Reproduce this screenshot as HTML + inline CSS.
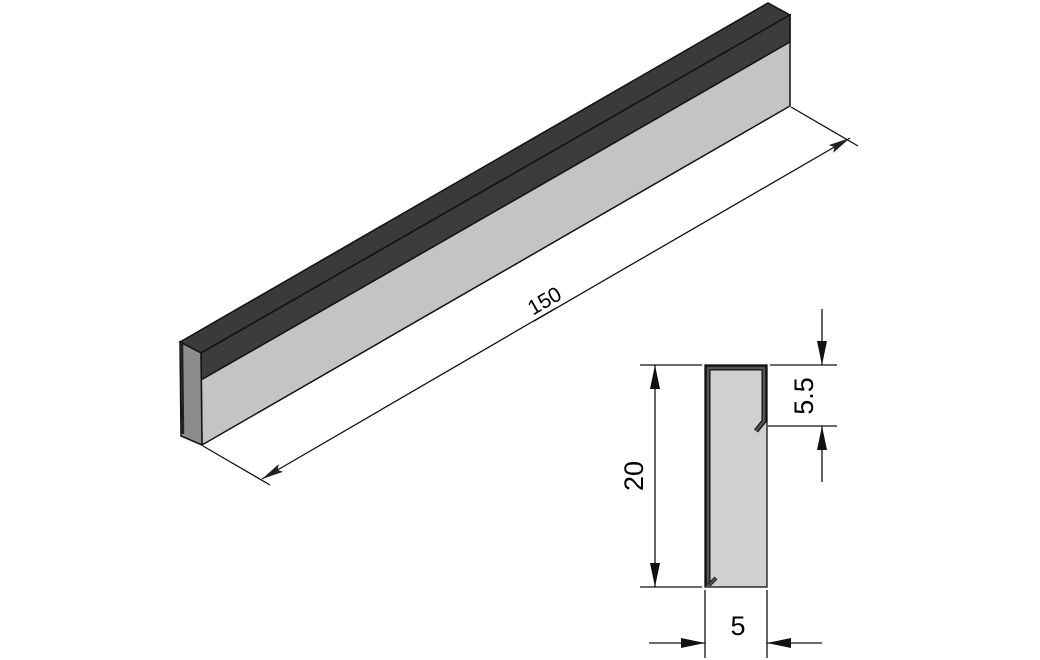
<!DOCTYPE html>
<html><head><style>body{margin:0;background:#fff}svg{display:block}</style></head><body>
<svg width="1040" height="660" viewBox="0 0 1040 660" xmlns="http://www.w3.org/2000/svg" font-family="Liberation Sans, sans-serif">
<defs>
<marker id="a" viewBox="0 0 24 10" refX="24" refY="5" markerWidth="24" markerHeight="10" markerUnits="userSpaceOnUse" orient="auto"><path d="M0,0 L24,5 L0,10 z" fill="#111"/></marker>
<marker id="b" viewBox="0 0 22 9" refX="22" refY="4.5" markerWidth="22" markerHeight="9" markerUnits="userSpaceOnUse" orient="auto"><path d="M0,0 L22,4.5 L0,9 L4,4.5 z" fill="#222"/></marker>
</defs>
<polygon points="180,342 768,3 790,15 201,353" fill="#3a3a3a" stroke="#111" stroke-width="1.5"/>
<polygon points="201,353 790,15 790,106 202,445" fill="#c4c4c4" stroke="#111" stroke-width="1.5"/>
<polygon points="201,353 790,15 790,42 201,380" fill="#3c3c3c" stroke="#111" stroke-width="1.5"/>
<polygon points="180,342 201,353 202,445 181,436" fill="#8c8c8c" stroke="#111" stroke-width="1.5"/>
<line x1="182" y1="344" x2="183" y2="434" stroke="#222" stroke-width="2.5"/>
<g stroke="#111" stroke-width="1.3" fill="none">
<line x1="203" y1="446" x2="270" y2="485"/>
<line x1="791" y1="107" x2="858" y2="146"/>
<line x1="556" y1="308" x2="262" y2="479" marker-end="url(#b)"/>
<line x1="534" y1="321" x2="850" y2="138" marker-end="url(#b)"/>
</g>
<text x="0" y="0" font-size="21" text-anchor="middle" transform="translate(548,307) rotate(-30)">150</text>
<rect x="705" y="365" width="62" height="222" fill="#d0d0d0" stroke="#111" stroke-width="1.3"/>
<path d="M708,586 L708,368 L764,368 L764,421 L756,431" fill="none" stroke="#111" stroke-width="5"/>
<path d="M708,586 L708,368 L764,368 L764,421 L756,431" fill="none" stroke="#555" stroke-width="2.5"/>
<line x1="709" y1="585" x2="716" y2="578" stroke="#111" stroke-width="4"/>
<line x1="709" y1="585" x2="716" y2="578" stroke="#555" stroke-width="2"/>
<g stroke="#111" stroke-width="1.3" fill="none">
<line x1="640" y1="365" x2="702" y2="365"/>
<line x1="640" y1="587" x2="702" y2="587"/>
<line x1="655" y1="476" x2="655" y2="365" marker-end="url(#a)"/>
<line x1="655" y1="476" x2="655" y2="587" marker-end="url(#a)"/>
<line x1="770" y1="365" x2="837" y2="365"/>
<line x1="768" y1="426" x2="837" y2="426"/>
<line x1="822" y1="309" x2="822" y2="365" marker-end="url(#a)"/>
<line x1="822" y1="482" x2="822" y2="426" marker-end="url(#a)"/>
<line x1="705" y1="590" x2="705" y2="658"/>
<line x1="767" y1="590" x2="767" y2="658"/>
<line x1="649" y1="643" x2="705" y2="643" marker-end="url(#a)"/>
<line x1="822" y1="643" x2="767" y2="643" marker-end="url(#a)"/>
</g>
<text font-size="27" text-anchor="middle" transform="translate(643,476) rotate(-90)">20</text>
<text font-size="27" text-anchor="middle" transform="translate(813,396) rotate(-90)">5.5</text>
<text x="738" y="635" font-size="27" text-anchor="middle">5</text>
</svg>
</body></html>
